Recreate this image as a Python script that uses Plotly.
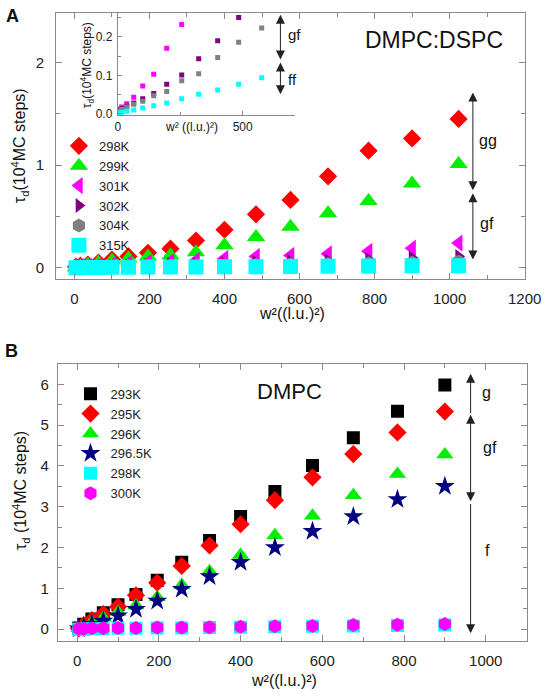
import plotly.graph_objects as go

FONT = "Liberation Sans, Arial, sans-serif"

# ---------------- Panel A data (DMPC:DSPC) ----------------
xA = [4, 16, 36, 64, 100, 144, 196, 256, 324, 400, 484, 576, 676, 784, 900, 1024]
A_298K = [0.01, 0.02, 0.03, 0.05, 0.08, 0.11, 0.145, 0.185, 0.265, 0.37, 0.52, 0.66, 0.89, 1.14, 1.26, 1.45]
A_299K = [0.005, 0.015, 0.03, 0.05, 0.07, 0.09, 0.11, 0.12, 0.15, 0.22, 0.30, 0.40, 0.53, 0.65, 0.82, 1.01]
A_301K = [0.005, 0.01, 0.015, 0.02, 0.03, 0.04, 0.05, 0.06, 0.07, 0.09, 0.11, 0.12, 0.135, 0.16, 0.19, 0.24]
A_302K = [0.0, 0.003, 0.006, 0.01, 0.013, 0.018, 0.022, 0.028, 0.033, 0.04, 0.05, 0.06, 0.07, 0.08, 0.095, 0.11]
A_304K = [0.0, 0.002, 0.004, 0.006, 0.008, 0.01, 0.013, 0.016, 0.02, 0.024, 0.028, 0.033, 0.038, 0.044, 0.05, 0.06]
A_315K = [0.0, 0.001, 0.002, 0.003, 0.004, 0.005, 0.006, 0.007, 0.008, 0.009, 0.01, 0.012, 0.014, 0.016, 0.018, 0.02]

# ---------------- Inset data ----------------
xIn = [4, 16, 36, 64, 100, 144, 196, 256, 324, 400, 484, 576]
In_mag = [0.012, 0.018, 0.026, 0.043, 0.072, 0.103, 0.17, 0.232]
In_pur = [0.01, 0.014, 0.02, 0.028, 0.039, 0.053, 0.077, 0.101, 0.143, 0.19, 0.25]
In_gray = [0.008, 0.012, 0.018, 0.025, 0.033, 0.047, 0.058, 0.086, 0.104, 0.146, 0.186, 0.223]
In_cyan = [0.002, 0.004, 0.007, 0.01, 0.015, 0.021, 0.028, 0.039, 0.051, 0.062, 0.077, 0.094]

# ---------------- Panel B data (DMPC) ----------------
xB = [4, 16, 36, 64, 100, 144, 196, 256, 324, 400, 484, 576, 676, 784, 900]
B_293K = [0.03, 0.12, 0.25, 0.40, 0.60, 0.85, 1.20, 1.64, 2.17, 2.76, 3.37, 4.01, 4.69, 5.34, 5.98]
B_295K = [0.02, 0.10, 0.22, 0.37, 0.55, 0.83, 1.14, 1.55, 2.05, 2.57, 3.16, 3.72, 4.29, 4.82, 5.33]
B_296K = [0.02, 0.08, 0.17, 0.28, 0.42, 0.58, 0.78, 1.08, 1.42, 1.82, 2.30, 2.78, 3.28, 3.80, 4.28]
B_2965K = [0.01, 0.05, 0.12, 0.20, 0.33, 0.49, 0.69, 0.98, 1.29, 1.64, 2.00, 2.40, 2.76, 3.18, 3.50]
B_298K = [0.0, 0.0, 0.01, 0.01, 0.02, 0.02, 0.03, 0.03, 0.04, 0.05, 0.06, 0.07, 0.08, 0.09, 0.10]
B_300K = [0.01, 0.01, 0.02, 0.02, 0.03, 0.03, 0.04, 0.04, 0.05, 0.06, 0.07, 0.08, 0.10, 0.11, 0.13]

A_series = [
    ("298K", A_298K, "diamond", "#ff0000", 14),
    ("299K", A_299K, "triangle-up", "#00ee00", 16),
    ("301K", A_301K, "triangle-left", "#ff00ff", 15),
    ("302K", A_302K, "triangle-right", "#800080", 13),
    ("304K", A_304K, "hexagon", "#808080", 14),
    ("315K", A_315K, "square", "#00ffff", 15),
]
In_series = [
    (In_mag, "#ff00ff"),
    (In_pur, "#800080"),
    (In_gray, "#808080"),
    (In_cyan, "#00ffff"),
]
B_series = [
    ("293K", B_293K, "square", "#000000", 13),
    ("295K", B_295K, "diamond", "#ff0000", 14),
    ("296K", B_296K, "triangle-up", "#00ee00", 15),
    ("296.5K", B_2965K, "star", "#000080", 15),
    ("298K", B_298K, "square", "#00ffff", 13),
    ("300K", B_300K, "hexagon", "#ff00ff", 14),
]

fig = go.Figure()
for name, ys, sym, col, sz in A_series:
    fig.add_trace(go.Scatter(x=xA, y=ys, mode="markers", name=name,
                             marker=dict(symbol=sym, color=col, size=sz, line=dict(width=0)),
                             xaxis="x", yaxis="y", legend="legend"))
for ys, col in In_series:
    fig.add_trace(go.Scatter(x=xIn[:len(ys)], y=ys, mode="markers", showlegend=False,
                             marker=dict(symbol="square", color=col, size=5, line=dict(width=0)),
                             xaxis="x3", yaxis="y3"))
for name, ys, sym, col, sz in B_series:
    fig.add_trace(go.Scatter(x=xB, y=ys, mode="markers", name=name,
                             marker=dict(symbol=sym, color=col, size=sz, line=dict(width=0)),
                             xaxis="x2", yaxis="y2", legend="legend2"))

W, H = 559, 697
def px(x):
    return x / W
def py(y):
    return 1 - y / H

AXC = "#8a8a8a"
TKF = dict(family=FONT, size=15, color="#222")
common = dict(showline=True, linecolor=AXC, linewidth=1, mirror="ticks", ticks="inside",
              tickcolor=AXC, ticklen=6, showgrid=False, zeroline=False, tickfont=TKF)

fig.update_layout(
    width=W, height=H, margin=dict(l=0, r=0, t=0, b=0),
    paper_bgcolor="white", plot_bgcolor="rgba(0,0,0,0)",
    font=dict(family=FONT, color="#222"),
    xaxis=dict(domain=[px(55), px(541)], range=[-49, 1200], anchor="y", dtick=200,
               minor=dict(ticks="inside", dtick=100, ticklen=4, tickcolor=AXC),
               ticklabelstandoff=6, **common),
    yaxis=dict(domain=[py(281), py(13)], range=[-0.106, 2.483], anchor="x", dtick=1,
               minor=dict(ticks="inside", dtick=0.5, ticklen=4, tickcolor=AXC),
               ticklabelstandoff=8, **common),
    xaxis2=dict(domain=[px(57), px(543)], range=[-47, 1100], anchor="y2", dtick=200,
                minor=dict(ticks="inside", dtick=100, ticklen=4, tickcolor=AXC),
                ticklabelstandoff=6, **common),
    yaxis2=dict(domain=[py(647), py(367)], range=[-0.3, 6.5], anchor="x2", dtick=1,
                minor=dict(ticks="inside", dtick=0.5, ticklen=4, tickcolor=AXC),
                ticklabelstandoff=5, **common),
    xaxis3=dict(domain=[px(119), px(303)], range=[0, 710], anchor="y3", dtick=500,
                showline=True, linecolor=AXC, linewidth=1, ticks="inside", tickcolor=AXC,
                ticklen=4, showgrid=False, zeroline=False,
                minor=dict(ticks="inside", dtick=250, ticklen=3, tickcolor=AXC),
                tickfont=dict(family=FONT, size=12, color="#222"), ticklabelstandoff=1),
    yaxis3=dict(domain=[py(116), py(13)], range=[-0.003, 0.262], anchor="x3", dtick=0.1,
                tickformat=".1f",
                showline=True, linecolor=AXC, linewidth=1, ticks="inside", tickcolor=AXC,
                ticklen=4, showgrid=False, zeroline=False,
                minor=dict(ticks="inside", dtick=0.05, ticklen=3, tickcolor=AXC),
                tickfont=dict(family=FONT, size=12, color="#222"), ticklabelstandoff=2),
    legend=dict(x=px(58), y=py(132), xanchor="left", yanchor="top", bgcolor="rgba(0,0,0,0)",
                font=dict(family=FONT, size=13, color="#222"), tracegroupgap=0),
    legend2=dict(x=px(70), y=py(382), xanchor="left", yanchor="top", bgcolor="rgba(0,0,0,0)",
                 font=dict(family=FONT, size=13, color="#222"), tracegroupgap=0),
)

ann = []
def text(x, y, s, size, xref="paper", yref="paper", xanchor="center", yanchor="middle", angle=0, bold=False):
    ann.append(dict(x=x, y=y, xref=xref, yref=yref, text=("<b>%s</b>" % s) if bold else s,
                    showarrow=False, xanchor=xanchor, yanchor=yanchor, textangle=angle,
                    font=dict(family=FONT, size=size, color="#111")))

def arrow(xr, yr, x, y0, y1, both):
    ann.append(dict(x=x, y=y1, ax=x, ay=y0, xref=xr, yref=yr, axref=xr, ayref=yr,
                    text="", showarrow=True, arrowhead=2, startarrowhead=2, arrowsize=1.8,
                    startarrowsize=1.8, arrowwidth=1, arrowcolor="#222",
                    arrowside="end+start" if both else "end", standoff=0, startstandoff=0))

# panel labels and titles
text(px(10), py(16), "A", 18, bold=True)
text(px(9), py(354), "B", 18, bold=True)
text(px(447), py(40), "DMPC:DSPC", 23)
text(px(297), py(395), "DMPC", 22)
text(px(17), py(147), "τ<sub>d</sub>(10<sup>4</sup>MC steps)", 16, angle=-90)
text(px(18), py(495), "τ<sub>d</sub> (10<sup>4</sup>MC steps)", 16, angle=-90)
text(px(88), py(66), "τ<sub>d</sub>(10<sup>4</sup>MC steps)", 12, angle=-90)
text(px(300), py(316), "w²((l.u.)²)", 16)
text(px(291), py(686), "w²((l.u.)²)", 16)
text(px(195), py(128), "w² ((l.u.)²)", 12)

# arrows panel A
arrow("x", "y", 1062, 0.741, 1.707, True)
arrow("x", "y", 1062, 0.741, 0.08, True)
text(1074, 1.24, "gg", 16, xref="x", yref="y", xanchor="left")
text(1076, 0.435, "gf", 16, xref="x", yref="y", xanchor="left")
# arrows inset
arrow("x3", "y3", 651, 0.137, 0.257, True)
arrow("x3", "y3", 651, 0.137, 0.051, True)
text(672, 0.206, "gf", 15, xref="x3", yref="y3", xanchor="left")
text(672, 0.088, "ff", 15, xref="x3", yref="y3", xanchor="left")
# arrows panel B
arrow("x2", "y2", 963, 5.25, 6.26, False)
arrow("x2", "y2", 963, 3.1, 5.25, True)
arrow("x2", "y2", 963, 3.1, -0.1, False)
text(986, 5.81, "g", 16, xref="x2", yref="y2", xanchor="left")
text(988, 4.44, "gf", 16, xref="x2", yref="y2", xanchor="left")
text(993, 1.93, "f", 16, xref="x2", yref="y2", xanchor="left")

fig.update_layout(annotations=ann)
fig.write_html("out.html", config={"displayModeBar": False},
               post_script="document.body.style.margin='0';document.body.style.overflow='hidden';")
